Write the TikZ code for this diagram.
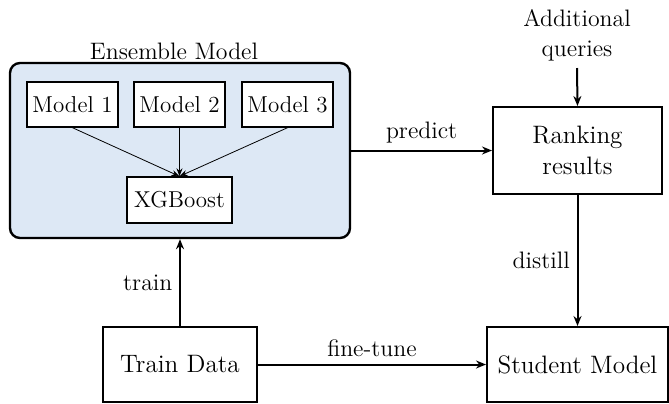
\documentclass[tikz,border=0pt]{standalone}
\usetikzlibrary{arrows.meta}
\definecolor{ensblue}{RGB}{221,232,245}
\tikzset{
  bigbox/.style={draw,line width=1pt,minimum height=37.5pt,font=\fontsize{12.6}{15.5}\selectfont,align=center},
  modelbox/.style={draw,fill=white,line width=0.7pt,minimum height=22.5pt,inner xsep=2pt,font=\fontsize{11.5}{14}\selectfont},
  lbl/.style={font=\fontsize{11.9}{15}\selectfont},
  flow/.style={line width=1pt,-{Stealth[length=5pt,width=4pt]}},
  thinflow/.style={line width=0.4pt,-{Stealth[length=4pt,width=3pt]}}
}
\begin{document}
\begin{tikzpicture}[x=0.5pt,y=-0.5pt]
    \useasboundingbox (0,0) rectangle (669,403);

    % ensemble block
    \node[draw,line width=1.2pt,rounded corners=5pt,fill=ensblue,minimum width=170pt,minimum height=87.5pt] (ens) at (180,150.5) {};
    \node[lbl] (enstitle) at (174,51) {Ensemble Model};
    \node[modelbox,minimum width=45.5pt] (m1) at (72.5,104.5) {Model 1};
    \node[modelbox,minimum width=45.5pt] (m2) at (179.5,104.5) {Model 2};
    \node[modelbox,minimum width=45.5pt] (m3) at (287.5,104.5) {Model 3};
    \node[modelbox,minimum width=52.5pt,minimum height=23pt] (xgb) at (179.5,200) {XGBoost};
    \foreach \m in {m1,m2,m3} \draw[thinflow] (\m.south) -- (xgb.north);

    % outer blocks
    \node[bigbox,minimum width=84.5pt,minimum height=43.5pt] (rank) at (577.5,150.5) {Ranking\\results};
    \node[bigbox,minimum width=77pt] (train) at (180,364.5) {Train Data};
    \node[bigbox,minimum width=90.5pt] (student) at (577.5,364.5) {Student Model};
    \node[lbl,align=center,anchor=south,inner ysep=3pt] (addq) at (577,68) {Additional\\queries};

    \draw[flow] (addq.south) -- (rank.north);
    \draw[flow] (ens.east) -- node[lbl,above] {predict} (rank.west);
    \draw[flow] (rank.south) -- node[lbl,left] {distill} (student.north);
    \draw[flow] (train.north) -- node[lbl,left] {train} (ens.south);
    \draw[flow] (train.east) -- node[lbl,above] {fine-tune} (student.west);
\end{tikzpicture}
\end{document}
